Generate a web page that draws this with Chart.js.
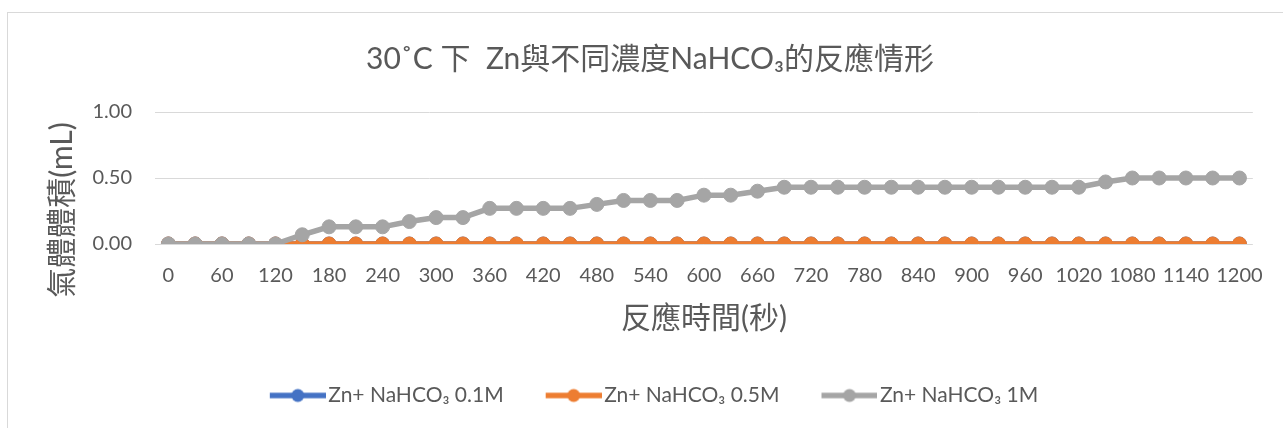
<!DOCTYPE html>
<html>
<head>
<meta charset="utf-8">
<script src="https://cdn.jsdelivr.net/npm/chart.js@4.4.1/dist/chart.umd.min.js"></script>
<style>
  html, body { margin: 0; padding: 0; background: #fff; overflow: hidden; }
  #frame { position: absolute; left: 7px; top: 12px; width: 1400px; height: 500px;
           border-left: 1px solid #d9d9d9; border-top: 1px solid #d9d9d9; }
  #wrap { position: absolute; left: 0; top: 0; width: 1283px; height: 428px; }
</style>
</head>
<body>
<div id="frame"></div>
<div id="wrap"><canvas id="chart"></canvas></div>
<script>
// reaction time (s)
const times = [0, 30, 60, 90, 120, 150, 180, 210, 240, 270, 300, 330, 360, 390, 420, 450, 480, 510, 540, 570,
  600, 630, 660, 690, 720, 750, 780, 810, 840, 870, 900, 930, 960, 990, 1020, 1050, 1080, 1110, 1140, 1170, 1200];

// gas volume (mL)
const zn01 = [0, 0, 0, 0, 0, 0, 0, 0, 0, 0, 0, 0, 0, 0, 0, 0, 0, 0, 0, 0,
  0, 0, 0, 0, 0, 0, 0, 0, 0, 0, 0, 0, 0, 0, 0, 0, 0, 0, 0, 0, 0];
const zn05 = [0, 0, 0, 0, 0, 0, 0, 0, 0, 0, 0, 0, 0, 0, 0, 0, 0, 0, 0, 0,
  0, 0, 0, 0, 0, 0, 0, 0, 0, 0, 0, 0, 0, 0, 0, 0, 0, 0, 0, 0, 0];
const zn1 = [0, 0, 0, 0, 0, 0.07, 0.13, 0.13, 0.13, 0.17, 0.2, 0.2, 0.27, 0.27, 0.27, 0.27, 0.3, 0.33, 0.33, 0.33,
  0.37, 0.37, 0.4, 0.43, 0.43, 0.43, 0.43, 0.43, 0.43, 0.43, 0.43, 0.43, 0.43, 0.43, 0.43, 0.47, 0.5, 0.5, 0.5, 0.5, 0.5];

const seriesNames = ['Zn+ NaHCO₃ 0.1M', 'Zn+ NaHCO₃ 0.5M', 'Zn+ NaHCO₃ 1M'];
const seriesColors = ['#4472C4', '#ED7D31', '#A5A5A5'];
const yTicks = [0, 0.5, 1];

const FONT = 'Lato, "Noto Sans CJK TC", "Noto Sans", sans-serif';
const TEXT = '#595959';

// legend swatch: a short line with a dot, drawn off to the right of the box centre
function swatch(color) {
  const c = document.createElement('canvas');
  c.width = 96; c.height = 16;
  const g = c.getContext('2d');
  g.strokeStyle = color;
  g.lineWidth = 5.5;
  g.beginPath(); g.moveTo(40, 8); g.lineTo(96, 8); g.stroke();
  g.fillStyle = color;
  g.beginPath(); g.arc(68, 8, 6.5, 0, Math.PI * 2); g.fill();
  return c;
}

// vertical axis title, sits a bit lower than the plot centre
const yTitle = {
  id: 'yTitle',
  afterDraw(chart) {
    const { ctx, chartArea } = chart;
    ctx.save();
    ctx.translate(chartArea.left - 93, (chartArea.top + chartArea.bottom) / 2 + 32);
    ctx.rotate(-Math.PI / 2);
    ctx.font = '30px ' + FONT;
    ctx.fillStyle = TEXT;
    ctx.textAlign = 'center';
    ctx.textBaseline = 'middle';
    ctx.fillText('氣體體積(mL)', 0, 0);
    ctx.restore();
  }
};

// nudge the legend row a little to the left
const legendShift = {
  id: 'legendShift',
  afterLayout(chart) {
    chart.legend.left -= 12;
    chart.legend.right -= 12;
  }
};

const datasets = [zn01, zn05, zn1].map((d, i) => ({
  label: seriesNames[i],
  data: d,
  borderColor: seriesColors[i],
  backgroundColor: seriesColors[i],
  pointBackgroundColor: seriesColors[i],
  pointBorderColor: seriesColors[i],
  borderWidth: 5.5,
  pointRadius: 7,
  pointBorderWidth: 1,
  tension: 0,
  order: 2 - i,
}));

new Chart(document.getElementById('chart'), {
  type: 'line',
  data: { labels: times, datasets },
  plugins: [yTitle, legendShift],
  options: {
    responsive: true,
    maintainAspectRatio: false,
    animation: false,
    layout: { padding: { left: 46, right: 29, top: 0, bottom: 12 } },
    plugins: {
      title: {
        display: true,
        text: '30˚C 下  Zn與不同濃度NaHCO₃的反應情形',
        color: TEXT,
        font: { family: FONT, size: 30, weight: 'normal' },
        padding: { top: 41, bottom: 35 },
      },
      legend: {
        position: 'bottom',
        labels: {
          color: TEXT,
          font: { family: FONT, size: 21 },
          usePointStyle: true,
          pointStyleWidth: 80,
          padding: 10,
          generateLabels(chart) {
            return chart.data.datasets.map((ds, i) => ({
              text: ds.label,
              fillStyle: ds.borderColor,
              strokeStyle: ds.borderColor,
              fontColor: TEXT,
              lineWidth: 0,
              pointStyle: swatch(ds.borderColor),
              hidden: !chart.isDatasetVisible(i),
              datasetIndex: i,
            }));
          },
        },
      },
      tooltip: { enabled: false },
    },
    scales: {
      x: {
        offset: true,
        grid: { display: false, drawTicks: false },
        border: { display: false },
        ticks: {
          color: TEXT,
          font: { family: FONT, size: 20 },
          padding: 20,
          autoSkip: false,
          maxRotation: 0,
          callback: (v, i) => (i % 2 === 0 ? times[i] : ''),
        },
        title: {
          display: true,
          text: '反應時間(秒)',
          color: TEXT,
          font: { family: FONT, size: 30 },
          padding: { top: 0, bottom: 39 },
        },
        afterFit: (scale) => { scale.height = 131; },
      },
      y: {
        min: 0,
        max: 1,
        grid: { color: '#d9d9d9', lineWidth: 1, drawTicks: false },
        border: { display: false },
        afterBuildTicks: (scale) => { scale.ticks = yTicks.map(v => ({ value: v })); },
        ticks: {
          color: TEXT,
          font: { family: FONT, size: 20 },
          padding: 23,
          callback: (v) => v.toFixed(2),
        },
        afterFit: (scale) => { scale.width = 109; },
      },
    },
  },
});
</script>
</body>
</html>
